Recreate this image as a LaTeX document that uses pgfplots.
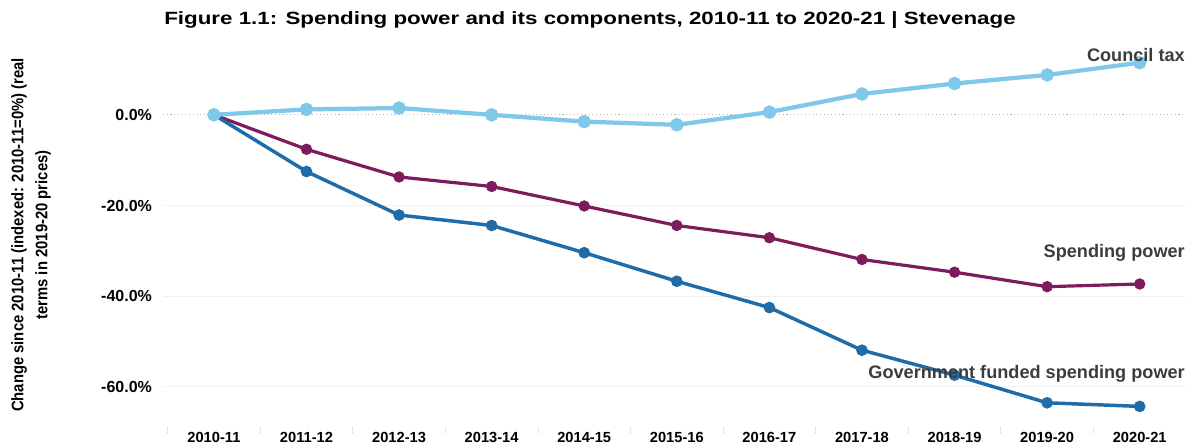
\documentclass[border=0pt]{standalone}
\usepackage{fontspec}
\setmainfont{Liberation Sans}
\usepackage{pgfplots}
\pgfplotsset{compat=1.18}
\definecolor{ctblue}{HTML}{80C8EA}
\definecolor{sppurple}{HTML}{7D1B5C}
\definecolor{gfblue}{HTML}{1F6CA8}
\definecolor{lbl}{HTML}{3C3C3C}
\begin{document}
\begin{tikzpicture}
\useasboundingbox (0,0) rectangle (889.5pt,334.5pt);
\begin{axis}[
  at={(122.25pt,12pt)}, anchor=south west,
  scale only axis, width=767.25pt, height=288.75pt,
  xmin=-0.55, xmax=10.5, ymin=-69.5, ymax=15.4,
  axis line style={draw=none},
  xtick pos=lower, ytick pos=left,
  xtick={0,...,10},
  xticklabels={2010-11,2011-12,2012-13,2013-14,2014-15,2015-16,2016-17,2017-18,2018-19,2019-20,2020-21},
  minor xtick={-0.5,0.5,...,10.5},
  major x tick style={draw=none},
  minor x tick style={gray!35, dash pattern=on 1pt off 1pt, line width=0.6pt},
  tick align=center, minor tick length=5pt,
  xticklabel style={font=\bfseries\fontsize{11pt}{12pt}\selectfont, text=black, anchor=north, inner sep=0pt, yshift=0.5pt},
  ytick={-60,-40,-20},
  yticklabels={-60.0\%,-40.0\%,-20.0\%},
  extra y ticks={0}, extra y tick labels={0.0\%},
  extra y tick style={grid style={gray!55, dotted, line width=0.8pt}},
  major y tick style={draw=none},
  yticklabel style={font=\bfseries\fontsize{12pt}{13pt}\selectfont, text=black, anchor=east, inner sep=0pt, xshift=-6pt},
  ymajorgrids, grid style={gray!12, line width=0.8pt},
  clip=false,
]
\addplot[color=sppurple, line width=2.4pt, mark=*, mark size=3pt] coordinates {
(0,0) (1,-7.6) (2,-13.7) (3,-15.8) (4,-20.1) (5,-24.4) (6,-27.1) (7,-31.9) (8,-34.7) (9,-37.9) (10,-37.3)};
\addplot[color=gfblue, line width=2.6pt, mark=*, mark size=3pt] coordinates {
(0,0) (1,-12.5) (2,-22.1) (3,-24.4) (4,-30.4) (5,-36.7) (6,-42.5) (7,-51.9) (8,-57.4) (9,-63.5) (10,-64.3)};
\addplot[color=ctblue, line width=3.2pt, mark=*, mark size=3.4pt] coordinates {
(0,0) (1,1.2) (2,1.5) (3,0.0) (4,-1.5) (5,-2.2) (6,0.6) (7,4.6) (8,6.9) (9,8.8) (10,11.5)};
\end{axis}
\node[font=\bfseries\fontsize{13.3pt}{14pt}\selectfont, text=black] at (442.5pt,319.5pt) {\scalebox{1.26}[1]{Figure 1.1: Spending power and its components, 2010-11 to 2020-21 | Stevenage}};
\node[rotate=90, inner sep=0pt, font=\bfseries\fontsize{12.5pt}{14pt}\selectfont, text=black] at (14.25pt,158.25pt) {\scalebox{0.89}[1]{Change since 2010-11 (indexed: 2010-11=0\%) (real}};
\node[rotate=90, inner sep=0pt, font=\bfseries\fontsize{12.5pt}{14pt}\selectfont, text=black] at (32.25pt,158.25pt) {\scalebox{0.89}[1]{terms in 2019-20 prices)}};
\node[anchor=east, inner sep=0pt, font=\bfseries\fontsize{13.6pt}{14pt}\selectfont, text=lbl] at (888.75pt,293.25pt) {Council tax};
\node[anchor=east, inner sep=0pt, font=\bfseries\fontsize{13.6pt}{14pt}\selectfont, text=lbl] at (888.75pt,145pt) {Spending power};
\node[anchor=east, inner sep=0pt, font=\bfseries\fontsize{13.6pt}{14pt}\selectfont, text=lbl] at (888.75pt,54pt) {Government funded spending power};
\end{tikzpicture}
\end{document}
